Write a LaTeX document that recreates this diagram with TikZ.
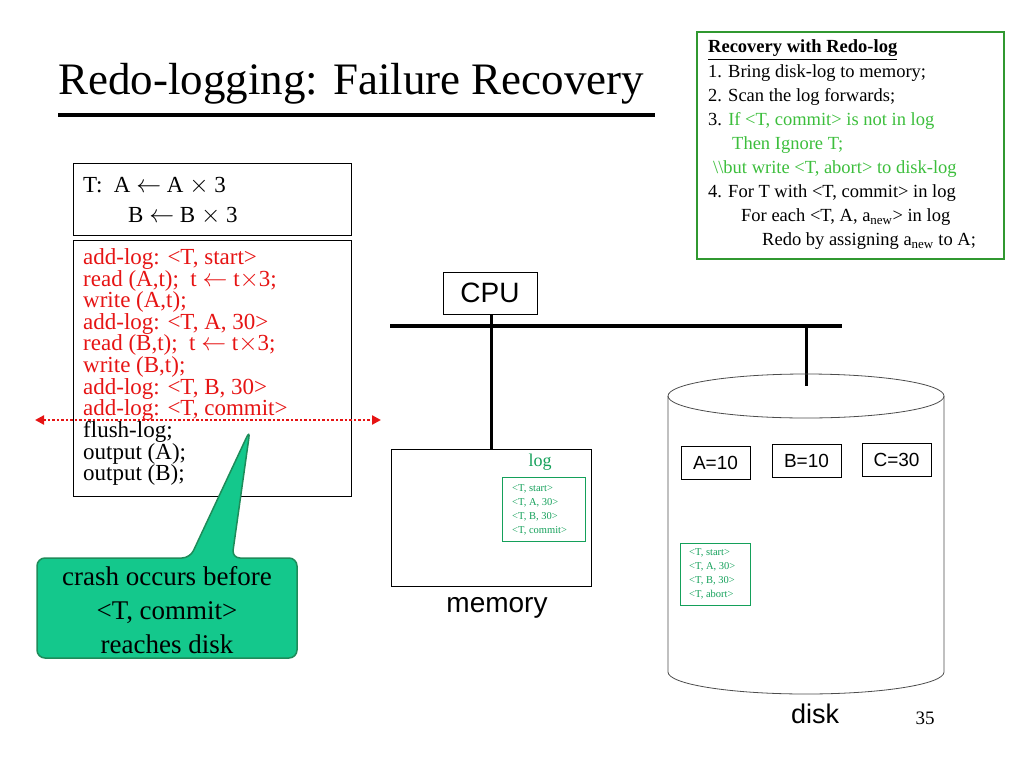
\documentclass[tikz,border=0pt]{standalone}
\usepackage{fontspec}
\setmainfont{Liberation Serif}
\newfontfamily\sansf{Liberation Sans}
\usepackage{amsmath,amssymb}
\usetikzlibrary{calc, shapes.geometric, arrows.meta}
\definecolor{rlred}{RGB}{230,20,20}
\definecolor{rlgreen}{RGB}{60,190,60}
\definecolor{loggreen}{RGB}{20,160,90}
\definecolor{callfill}{RGB}{20,200,140}
\definecolor{callline}{RGB}{30,140,90}
\tikzset{
  codeline/.style={anchor=west, inner sep=0pt, font=\fontsize{23}{23}\selectfont},
  noteline/.style={anchor=west, inner sep=0pt, font=\fontsize{18.5}{18}\selectfont},
  logline/.style={anchor=west, inner sep=0pt, text=loggreen, font=\fontsize{10.5}{10}\selectfont},
  valbox/.style={draw, thick, minimum width=69pt, minimum height=33pt, inner sep=0pt, font=\sansf\fontsize{19}{19}\selectfont},
}
\begin{document}
\begin{tikzpicture}[x=1pt, y=-1pt]
\useasboundingbox (0,0) rectangle (1024,768);

% Title
\node[anchor=west, inner sep=0pt, font=\fontsize{45}{45}\selectfont] (title) at (58,84) {Redo-logging: Failure Recovery};
\draw[line width=3.5pt] (58,115) -- (655,115);

% Recovery box
\draw[rlgreen!80!black, line width=1.5pt] (697,32) rectangle (1004,259);
\node[noteline, font=\bfseries\fontsize{18.5}{18}\selectfont] (rec0) at (708,50) {\underline{Recovery with Redo-log}};
\node[noteline] (rec1) at (708,73) {1. Bring disk-log to memory;};
\node[noteline] (rec2) at (708,97) {2. Scan the log forwards;};
\node[noteline] (rec3) at (708,121) {3. \textcolor{rlgreen}{If <T, commit> is not in log}};
\node[noteline, text=rlgreen] (rec4) at (732,145) {Then Ignore T;};
\node[noteline, text=rlgreen] (rec5) at (713,169) {\textbackslash\textbackslash but write <T, abort> to disk-log};
\node[noteline] (rec6) at (708,193) {4. For T with <T, commit> in log};
\node[noteline] (rec7) at (741,217) {For each <T, A, a\textsubscript{new}> in log};
\node[noteline] (rec8) at (762,241) {Redo by assigning a\textsubscript{new} to A;};

% Transaction
\draw[thick] (73,163) rectangle (351,235);
\node[codeline] (tA) at (83,186) {T:\ \ A $\leftarrow$ A $\times$ 3};
\node[codeline] (tB) at (128,216) {B $\leftarrow$ B $\times$ 3};

% Actions
\draw[thick] (73,240) rectangle (351,496);
\foreach \txt [count=\i] in {add-log: <T{,} start>, read (A{,}t);\ \ t $\leftarrow$ t$\times$3;, write (A{,}t);, add-log: <T{,} A{,} 30>, read (B{,}t);\ \ t $\leftarrow$ t$\times$3;, write (B{,}t);, add-log: <T{,} B{,} 30>, add-log: <T{,} commit>}
  \node[codeline, text=rlred] (act\i) at (83,{259+(\i-1)*21.6}) {\txt};
\foreach \txt [count=\i] in {flush-log;, output (A);, output (B);}
  \node[codeline] (out\i) at (83,{432+(\i-1)*21.6}) {\txt};

% Crash line
\coordinate (crL) at (35,420);
\coordinate (crR) at (381,420);
\draw[rlred, line width=2.5pt, dotted, {Triangle[length=9pt,width=9pt]}-{Triangle[length=9pt,width=9pt]}] (crL) -- (crR);

% Callout
\draw[callline, line width=1.5pt, fill=callfill, rounded corners=8pt]
  (37,558) -- (190,558) -- (250,430) -- (232,558) -- (297,558) -- (297,658) -- (37,658) -- cycle;
\node[align=center, font=\fontsize{27}{34}\selectfont] (crash) at (167,610) {crash occurs before\\<T, commit>\\reaches disk};

% CPU and bus
\node[draw, thick, minimum width=94pt, minimum height=42pt, font=\sansf\fontsize{28}{28}\selectfont] (cpu) at (490,293) {CPU};
\draw[line width=3.5pt] (390,326) -- (842,326);
\coordinate (busM) at (491,326);
\coordinate (busD) at (806,326);
\draw[line width=3pt] (cpu.south -| busM) -- (491,449);
\draw[line width=3pt] (busD) -- (806,386);

% Memory
\draw[thick] (391,449) rectangle (591,586);
\node[text=loggreen, font=\fontsize{18}{18}\selectfont] (mlog) at (540,462) {log};
\draw[loggreen, thick] (502,477) rectangle (585,541);
\foreach \txt [count=\i] in {<T{,} start>, <T{,} A{,} 30>, <T{,} B{,} 30>, <T{,} commit>}
  \node[logline] (ml\i) at (512,{489+(\i-1)*13.8}) {\txt};
\node[font=\sansf\fontsize{28}{28}\selectfont] (mem) at (497,608) {memory};

% Disk
\draw[thick, gray!60!black] (668,396) -- (668,672) arc[start angle=180, end angle=0, x radius=138, y radius=22] -- (944,396);
\draw[thick, gray!60!black] (806,396) ellipse[x radius=138, y radius=22];
\node[valbox] (a) at (715.5,463) {A=10};
\node[valbox] (b) at (806.5,461) {B=10};
\node[valbox] (c) at (896.5,460) {C=30};
\draw[loggreen, thick] (680,543) rectangle (750,605);
\foreach \txt [count=\i] in {<T{,} start>, <T{,} A{,} 30>, <T{,} B{,} 30>, <T{,} abort>}
  \node[logline] (dl\i) at (689,{553+(\i-1)*13.8}) {\txt};
\node[font=\sansf\fontsize{27}{27}\selectfont] (disk) at (815,714) {disk};
\node[font=\fontsize{19}{19}\selectfont] (page) at (925,718) {35};
\end{tikzpicture}
\end{document}
